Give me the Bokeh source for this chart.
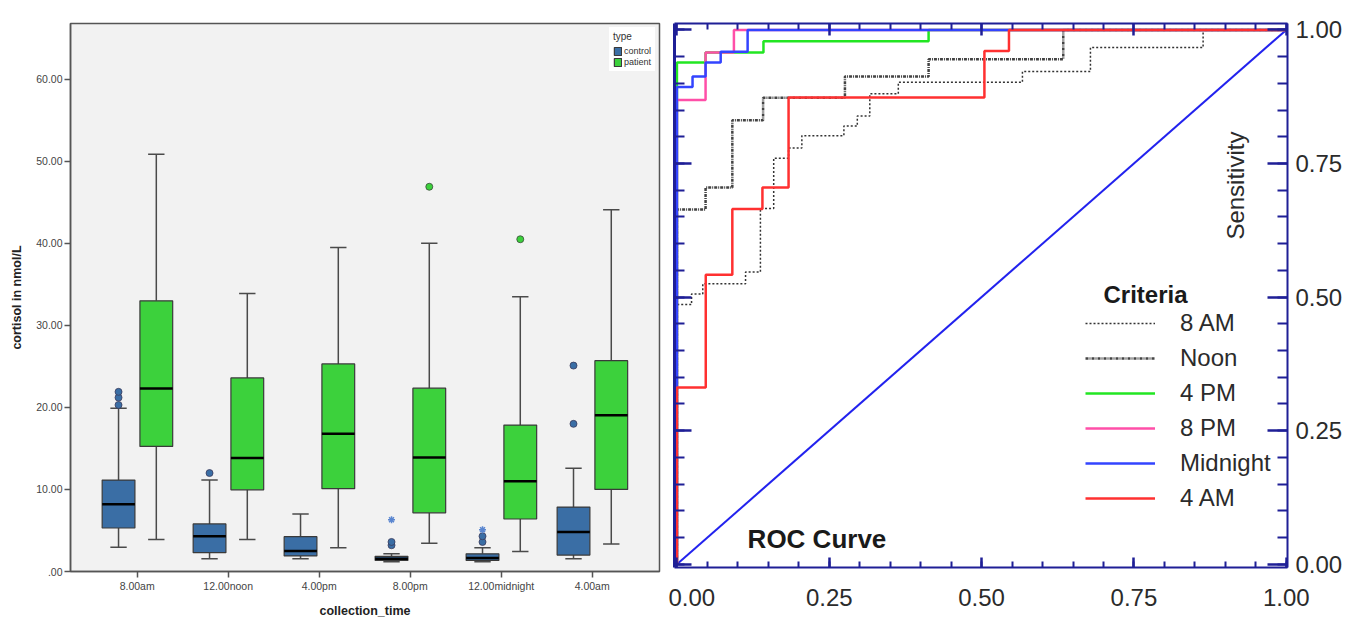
from math import pi
from bokeh.plotting import figure
from bokeh.models import (Range1d, FixedTicker, LinearAxis, Legend, LegendItem, Label)
from bokeh.layouts import row, column
from bokeh.embed import file_html
from bokeh.resources import INLINE

# ---------------- data: box plot ----------------
times = ["8.00am", "12.00noon", "4.00pm", "8.00pm", "12.00midnight", "4.00am"]
cat_idx = [1, 2, 3, 4, 5, 6]
y_ticks = [0, 10, 20, 30, 40, 50, 60]
y_tick_labels = [".00", "10.00", "20.00", "30.00", "40.00", "50.00", "60.00"]

control_lo = [2.95, 1.55, 1.55, 1.2, 1.2, 1.55]
control_q1 = [5.3, 2.3, 1.9, 1.35, 1.35, 2.0]
control_med = [8.2, 4.3, 2.5, 1.55, 1.65, 4.8]
control_q3 = [11.15, 5.8, 4.25, 1.85, 2.15, 7.85]
control_hi = [19.9, 11.15, 7.0, 2.15, 2.9, 12.6]

patient_lo = [3.9, 3.9, 2.9, 3.45, 2.45, 3.35]
patient_q1 = [15.25, 9.95, 10.1, 7.15, 6.4, 10.0]
patient_med = [22.3, 13.85, 16.8, 13.9, 11.0, 19.05]
patient_q3 = [33.0, 23.6, 25.3, 22.35, 17.85, 25.7]
patient_hi = [50.85, 33.9, 39.5, 40.0, 33.5, 44.1]

control_out_cat = [1, 1, 1, 2, 4, 4, 5, 5, 6, 6]
control_out_val = [20.3, 21.2, 21.9, 12.0, 3.2, 3.6, 3.6, 4.3, 18.0, 25.1]
control_ext_cat = [4, 5]
control_ext_val = [6.3, 5.1]
patient_out_cat = [4, 5]
patient_out_val = [46.9, 40.5]

# ---------------- data: ROC curves ----------------
roc_ticks = [0.0, 0.25, 0.5, 0.75, 1.0]
roc_tick_labels = ["0.00", "0.25", "0.50", "0.75", "1.00"]

fpr_8am = [0, 0, 0.024, 0.024, 0.0424, 0.0424, 0.1126, 0.1126, 0.137, 0.137, 0.1588, 0.1588,
           0.1832, 0.1832, 0.205, 0.205, 0.274, 0.274, 0.296, 0.296, 0.3165, 0.3165, 0.3633,
           0.3633, 0.567, 0.567, 0.6786, 0.6786, 0.8635, 0.8635, 1.0]
tpr_8am = [0, 0.486, 0.486, 0.506, 0.506, 0.525, 0.525, 0.547, 0.547, 0.666, 0.666, 0.760,
           0.760, 0.779, 0.779, 0.802, 0.802, 0.820, 0.820, 0.839, 0.839, 0.8805, 0.8805,
           0.902, 0.902, 0.922, 0.922, 0.967, 0.967, 1.0, 1.0]

fpr_noon = [0, 0, 0.047, 0.047, 0.0909, 0.0909, 0.1414, 0.1414, 0.2757, 0.2757, 0.413, 0.413,
            0.634, 0.634, 1.0]
tpr_noon = [0, 0.664, 0.664, 0.705, 0.705, 0.831, 0.831, 0.873, 0.873, 0.913, 0.913, 0.945,
            0.945, 1.0, 1.0]

fpr_4pm = [0, 0, 0.047, 0.047, 0.142, 0.142, 0.413, 0.413, 1.0]
tpr_4pm = [0, 0.939, 0.939, 0.9575, 0.9575, 0.979, 0.979, 1.0, 1.0]

fpr_8pm = [0, 0, 0.047, 0.047, 0.0935, 0.0935, 1.0]
tpr_8pm = [0, 0.869, 0.869, 0.9575, 0.9575, 1.0, 1.0]

fpr_mid = [0, 0, 0.0256, 0.0256, 0.047, 0.047, 0.0718, 0.0718, 0.116, 0.116, 1.0]
tpr_mid = [0, 0.893, 0.893, 0.9126, 0.9126, 0.939, 0.939, 0.959, 0.959, 1.0, 1.0]

fpr_4am = [0, 0, 0.0473, 0.0473, 0.0909, 0.0909, 0.1403, 0.1403, 0.1832, 0.1832, 0.5046,
           0.5046, 0.5449, 0.5449, 1.0]
tpr_4am = [0, 0.331, 0.331, 0.542, 0.542, 0.665, 0.665, 0.705, 0.705, 0.8735, 0.8735,
           0.9606, 0.9606, 1.0, 1.0]

ref_x = [0, 1]
ref_y = [0, 1]

# ---------------- styles ----------------
FONT = "Liberation Sans"
CTRL = "#3A6EA5"
PAT = "#3CD13C"
NAVY = "#1f1f96"
H = 620

# ================= left: box plot =================
p1 = figure(width=668, height=H, x_range=Range1d(0.267, 6.74), y_range=Range1d(0, 66.8),
            output_backend="svg", toolbar_location=None,
            min_border_left=70, min_border_right=9, min_border_top=23, min_border_bottom=H - 572)
p1.background_fill_color = "#f2f2f2"
p1.border_fill_color = "white"
p1.outline_line_color = "#555555"
p1.outline_line_width = 1.5
p1.grid.visible = False

p1.xaxis.ticker = FixedTicker(ticks=cat_idx)
p1.xaxis.major_label_overrides = dict(zip(cat_idx, times))
p1.yaxis.ticker = FixedTicker(ticks=y_ticks)
p1.yaxis.major_label_overrides = dict(zip(y_ticks, y_tick_labels))
for ax in (p1.xaxis, p1.yaxis):
    ax.axis_line_color = "#555555"
    ax.axis_line_width = 1.5
    ax.major_tick_line_color = "#555555"
    ax.major_tick_line_width = 1.5
    ax.major_tick_in = 0
    ax.major_tick_out = 6
    ax.minor_tick_line_color = None
    ax.major_label_text_font = FONT
    ax.major_label_text_font_size = "10.5px"
    ax.major_label_text_color = "#444444"
    ax.major_label_standoff = 2
    ax.axis_label_text_font = FONT
    ax.axis_label_text_font_size = "12.5px"
    ax.axis_label_text_font_style = "bold"
    ax.axis_label_text_color = "#222222"
p1.xaxis.axis_label = "collection_time"
p1.yaxis.axis_label = "cortisol in nmol/L"
p1.xaxis.axis_label_standoff = 9
p1.yaxis.axis_label_standoff = 9

off_c, off_p, bw, cw = -0.205, 0.21, 0.36, 0.09
cx = [i + off_c for i in cat_idx]
px_ = [i + off_p for i in cat_idx]

renderers = {}
for name, xs, lo, q1, med, q3, hi, col in (
        ("control", cx, control_lo, control_q1, control_med, control_q3, control_hi, CTRL),
        ("patient", px_, patient_lo, patient_q1, patient_med, patient_q3, patient_hi, PAT)):
    p1.segment(x0=xs, x1=xs, y0=q3, y1=hi, line_color="#4a4a4a", line_width=1.5)
    p1.segment(x0=xs, x1=xs, y0=lo, y1=q1, line_color="#4a4a4a", line_width=1.5)
    p1.segment(x0=[x - cw for x in xs], x1=[x + cw for x in xs], y0=hi, y1=hi,
               line_color="#4a4a4a", line_width=1.5)
    p1.segment(x0=[x - cw for x in xs], x1=[x + cw for x in xs], y0=lo, y1=lo,
               line_color="#4a4a4a", line_width=1.5)
    r = p1.vbar(x=xs, width=bw, bottom=q1, top=q3, fill_color=col,
                line_color="#3a3a3a", line_width=1.2)
    renderers[name] = r
    p1.segment(x0=[x - bw / 2 for x in xs], x1=[x + bw / 2 for x in xs], y0=med, y1=med,
               line_color="black", line_width=2.5)

p1.scatter([i + off_c for i in control_out_cat], control_out_val, size=7,
           fill_color=CTRL, line_color="#3a3a5a", line_width=0.8)
p1.scatter([i + off_c for i in control_ext_cat], control_ext_val, marker="asterisk", size=7,
           line_color="#5a86d0", line_width=1.5)
p1.scatter([i + off_p for i in patient_out_cat], patient_out_val, size=7,
           fill_color=PAT, line_color="#3a4a3a", line_width=0.8)

leg1 = Legend(items=[LegendItem(label="control", renderers=[renderers["control"]]),
                     LegendItem(label="patient", renderers=[renderers["patient"]])],
              location="top_right", title="type")
leg1.margin = 4
leg1.padding = 4
leg1.spacing = 1
leg1.glyph_width = 9
leg1.glyph_height = 10
leg1.label_height = 10
leg1.label_standoff = 2
leg1.label_text_font = FONT
leg1.label_text_font_size = "9px"
leg1.label_text_color = "#333333"
leg1.title_text_font = FONT
leg1.title_text_font_size = "10px"
leg1.title_text_font_style = "normal"
leg1.title_text_color = "#333333"
leg1.title_standoff = 4
leg1.border_line_alpha = 0
leg1.background_fill_color = "white"
leg1.background_fill_alpha = 1
p1.add_layout(leg1)

# ================= right: ROC =================
p2 = figure(width=684, height=H, x_range=Range1d(-0.004, 1.002), y_range=Range1d(-0.006, 1.012),
            output_backend="svg", toolbar_location=None,
            min_border_left=6, min_border_right=65, min_border_top=23, min_border_bottom=H - 567)
p2.outline_line_color = None
p2.grid.visible = False
p2.background_fill_color = "white"
p2.border_fill_color = "white"

roc_minor = [round(0.05 * k, 2) for k in range(21)]


def labelled_axis(ax, tin, mtin, width, standoff):
    ax.ticker = FixedTicker(ticks=roc_ticks, minor_ticks=roc_minor)
    ax.major_label_overrides = dict(zip(roc_ticks, roc_tick_labels))
    ax.axis_line_color = NAVY
    ax.axis_line_width = width
    ax.major_tick_line_color = NAVY
    ax.minor_tick_line_color = NAVY
    ax.major_tick_line_width = 2.5
    ax.minor_tick_line_width = 2
    ax.major_tick_in = tin
    ax.major_tick_out = 0
    ax.minor_tick_in = mtin
    ax.minor_tick_out = 0
    ax.major_label_text_font = FONT
    ax.major_label_text_font_size = "24px"
    ax.major_label_text_color = "#2b2b2b"
    ax.major_label_standoff = standoff


def bare_axis(ax, positions, tin, lw, width):
    # axis without labels: every tick is drawn as a "minor" tick, so no label text exists
    ax.ticker = FixedTicker(ticks=[], minor_ticks=positions)
    ax.axis_line_color = NAVY if width else None
    ax.axis_line_width = width or 1
    ax.major_tick_line_color = None
    ax.minor_tick_line_color = NAVY
    ax.minor_tick_line_width = lw
    ax.minor_tick_in = tin
    ax.minor_tick_out = 0
    ax.major_label_standoff = 0


labelled_axis(p2.xaxis[0], 10, 6, 2, 21)
labelled_axis_r = LinearAxis()
labelled_axis(labelled_axis_r, 20, 10, 2, 8)
p2.add_layout(labelled_axis_r, "right")

bare_axis(p2.yaxis[0], roc_minor, 10, 2, 3)
ax_l2 = LinearAxis()
bare_axis(ax_l2, roc_ticks, 17, 2.5, 0)
p2.add_layout(ax_l2, "left")

ax_t = LinearAxis()
bare_axis(ax_t, roc_minor, 6, 2, 2)
p2.add_layout(ax_t, "above")
ax_t2 = LinearAxis()
bare_axis(ax_t2, roc_ticks, 12, 2.5, 0)
p2.add_layout(ax_t2, "above")

p2.line(ref_x, ref_y, line_color="#2222ee", line_width=2)
r8am = p2.line(fpr_8am, tpr_8am, line_color="#333333", line_width=1.5, line_dash="2 2")
rnoon = p2.line(fpr_noon, tpr_noon, line_color="#444444", line_width=2.5, line_dash="3 1 1 1")
r4pm = p2.line(fpr_4pm, tpr_4pm, line_color="#22e622", line_width=2.5)
r8pm = p2.line(fpr_8pm, tpr_8pm, line_color="#ff4fa8", line_width=2.5)
rmid = p2.line(fpr_mid, tpr_mid, line_color="#3344ff", line_width=2.5)
r4am = p2.line(fpr_4am, tpr_4am, line_color="#ff3030", line_width=2.5)

leg2 = Legend(items=[LegendItem(label="8 AM", renderers=[r8am]),
                     LegendItem(label="Noon", renderers=[rnoon]),
                     LegendItem(label="4 PM", renderers=[r4pm]),
                     LegendItem(label="8 PM", renderers=[r8pm]),
                     LegendItem(label="Midnight", renderers=[rmid]),
                     LegendItem(label="4 AM", renderers=[r4am])],
              location=(411, 55))
leg2.padding = 0
leg2.margin = 0
leg2.spacing = 7
leg2.glyph_width = 70
leg2.glyph_height = 26
leg2.label_height = 26
leg2.label_standoff = 25
leg2.label_text_font = FONT
leg2.label_text_font_size = "24px"
leg2.label_text_color = "#2b2b2b"
leg2.border_line_alpha = 0
leg2.background_fill_alpha = 0
p2.add_layout(leg2)

p2.add_layout(Label(x=0.700, y=0.505, text="Criteria", text_font=FONT, text_font_size="24px",
                    text_font_style="bold", text_color="#1a1a1a", text_align="left",
                    text_baseline="middle"))
p2.add_layout(Label(x=0.116, y=0.048, text="ROC Curve", text_font=FONT, text_font_size="26px",
                    text_font_style="bold", text_color="#1a1a1a", text_align="left",
                    text_baseline="middle"))
p2.add_layout(Label(x=0.9166, y=0.7087, text="Sensitivity", text_font=FONT,
                    text_font_size="24px", text_color="#2b2b2b", angle=pi / 2,
                    text_align="center", text_baseline="middle"))

layout = row(column(p1), column(p2))
open("out.html", "w").write(file_html(layout, INLINE))
